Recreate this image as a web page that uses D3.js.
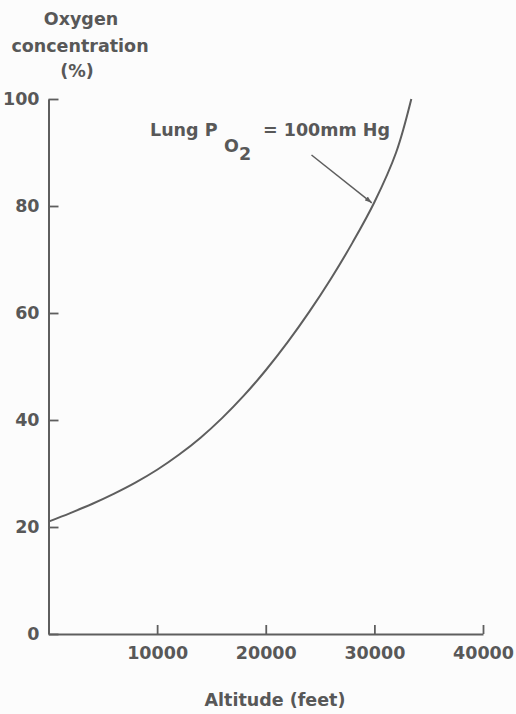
<!DOCTYPE html>
<html>
<head>
<meta charset="utf-8">
<script src="https://cdn.jsdelivr.net/npm/d3@7"></script>
<style>
  html, body { margin: 0; padding: 0; background: #fcfcfc; }
  svg { display: block; }
  text { font-family: "DejaVu Sans", sans-serif; fill: #585858; font-weight: bold; }
</style>
</head>
<body>
<svg id="chart" width="516" height="714"></svg>
<script>
// Data
const altitudeFt = [0, 2000, 4000, 6000, 8000, 10000, 12000, 14000, 16000, 18000, 20000, 22000, 24000, 26000, 28000, 30000, 32000, 33400];
const oxygenPct  = [21, 22.6, 24.3, 26.2, 28.3, 30.7, 33.5, 36.7, 40.4, 44.6, 49.3, 54.5, 60.2, 66.4, 73.2, 80.7, 90.0, 100];
const xTicks = [0, 10000, 20000, 30000, 40000];
const yTicks = [0, 20, 40, 60, 80, 100];
const titleLines = ["Oxygen", "concentration", "(%)"];
const xTitle = "Altitude (feet)";
const annotationPoint = [29900, 80.6];

const svg = d3.select("#chart");
const ink = "#5e5e5e";
const textInk = "#585858";
const fs = 17.5;

const x = d3.scaleLinear().domain([0, 40000]).range([48.5, 483]);
const y = d3.scaleLinear().domain([0, 100]).range([634, 99]);

// Y axis
const yAxis = svg.append("g")
  .attr("transform", `translate(${x(0)},0)`)
  .call(d3.axisLeft(y).tickValues(yTicks).tickSizeInner(-10).tickSizeOuter(0).tickPadding(9).tickFormat(d3.format("d")));
// X axis
const xAxis = svg.append("g")
  .attr("transform", `translate(0,${y(0)})`)
  .call(d3.axisBottom(x).tickValues(xTicks).tickSizeInner(-9).tickSizeOuter(0).tickPadding(13).tickFormat(d => d === 0 ? "" : d3.format("d")(d)));

[yAxis, xAxis].forEach(g => {
  g.select(".domain").attr("stroke", ink).attr("stroke-width", 2);
  g.selectAll(".tick line").attr("stroke", ink).attr("stroke-width", 1.8);
  g.selectAll(".tick text")
    .attr("font-family", "DejaVu Sans, sans-serif")
    .attr("font-weight", "bold")
    .attr("font-size", fs)
    .attr("fill", textInk);
});
xAxis.selectAll(".tick").filter(d => d === 0).select("line").remove();

// Curve
const pts = altitudeFt.map((a, i) => [a, oxygenPct[i]]);
svg.append("path")
  .datum(pts)
  .attr("fill", "none")
  .attr("stroke", ink)
  .attr("stroke-width", 2)
  .attr("d", d3.line().x(d => x(d[0])).y(d => y(d[1])).curve(d3.curveCatmullRom.alpha(0.5)));

// Y title
const yt = svg.append("g");
[[81, 25], [80, 52], [77, 77]].forEach((p, i) => {
  yt.append("text")
    .attr("x", p[0]).attr("y", p[1])
    .attr("text-anchor", "middle")
    .attr("font-size", fs)
    .text(titleLines[i]);
});

// X title
svg.append("text")
  .attr("x", 275).attr("y", 706)
  .attr("text-anchor", "middle")
  .attr("font-size", fs)
  .text(xTitle);

// Annotation
const ann = svg.append("g").attr("font-size", fs);
ann.append("text").attr("x", 150).attr("y", 136).text("Lung P");
ann.append("text").attr("x", 224).attr("y", 152).text("O");
ann.append("text").attr("x", 239).attr("y", 160).text("2");
ann.append("text").attr("x", 263).attr("y", 136).text("= 100mm Hg");

// Arrow
svg.append("defs").append("marker")
  .attr("id", "ah").attr("viewBox", "0 0 10 10").attr("refX", 10).attr("refY", 5)
  .attr("markerWidth", 7).attr("markerHeight", 7).attr("markerUnits", "userSpaceOnUse")
  .attr("orient", "auto")
  .append("path").attr("d", "M0,1.5 L10,5 L0,8.5 Z").attr("fill", ink);
svg.append("line")
  .attr("x1", 311.5).attr("y1", 155)
  .attr("x2", x(annotationPoint[0]) - 1.5).attr("y2", y(annotationPoint[1]))
  .attr("stroke", ink).attr("stroke-width", 1.5)
  .attr("marker-end", "url(#ah)");
</script>
</body>
</html>
